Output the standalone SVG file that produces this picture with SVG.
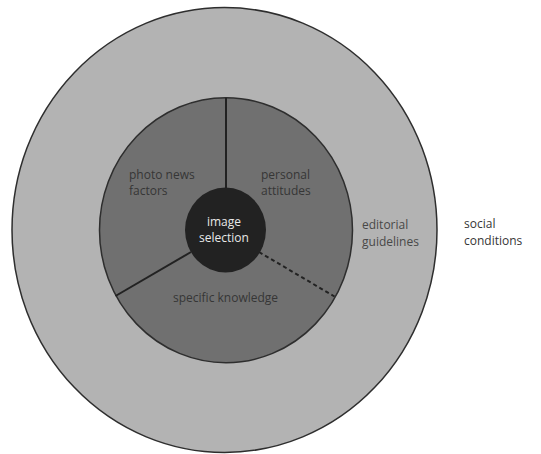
<svg xmlns="http://www.w3.org/2000/svg" width="541" height="454" viewBox="0 0 541 454">
<style>
text{font-family:"Open Sans","Liberation Sans",sans-serif;font-size:12px}
.dk{fill:#363636}
.md{fill:#484848}
.wt{fill:#e8e8e8}
.ring{stroke:#2e2e2e;stroke-width:1.5}
.sep{stroke:#222;stroke-width:2;fill:none}
</style>
<rect width="541" height="454" fill="#fff"/>
<g id="social">
<ellipse class="ring" cx="224.5" cy="230" rx="212.5" ry="222.5" fill="#b3b3b3"/>
<text class="dk" x="464" y="228">social</text>
<text class="dk" x="464" y="244.5">conditions</text>
</g>
<g id="editorial">
<ellipse class="ring" cx="226" cy="230.2" rx="126.5" ry="132.5" fill="#707070"/>
<text class="md" x="362" y="229">editorial</text>
<text class="md" x="362" y="245.5">guidelines</text>
</g>
<g id="connectors">
<line class="sep" x1="226" y1="98" x2="226" y2="189"/>
<line class="sep" x1="191" y1="252" x2="115.5" y2="296"/>
<line class="sep" x1="259" y1="252" x2="334.5" y2="296.5" stroke-dasharray="4,3" stroke-width="1.6"/>
</g>
<g id="photo-news-factors">
<text class="dk" x="129" y="178.5">photo news</text>
<text class="dk" x="129" y="195">factors</text>
</g>
<g id="personal-attitudes">
<text class="dk" x="261" y="178.5">personal</text>
<text class="dk" x="261" y="195">attitudes</text>
</g>
<g id="specific-knowledge">
<text class="dk" x="173" y="302">specific knowledge</text>
</g>
<g id="image-selection">
<ellipse cx="225.5" cy="230" rx="40.5" ry="42.5" fill="#222"/>
<text class="wt" x="224" y="226" text-anchor="middle">image</text>
<text class="wt" x="224" y="242" text-anchor="middle">selection</text>
</g>
</svg>
